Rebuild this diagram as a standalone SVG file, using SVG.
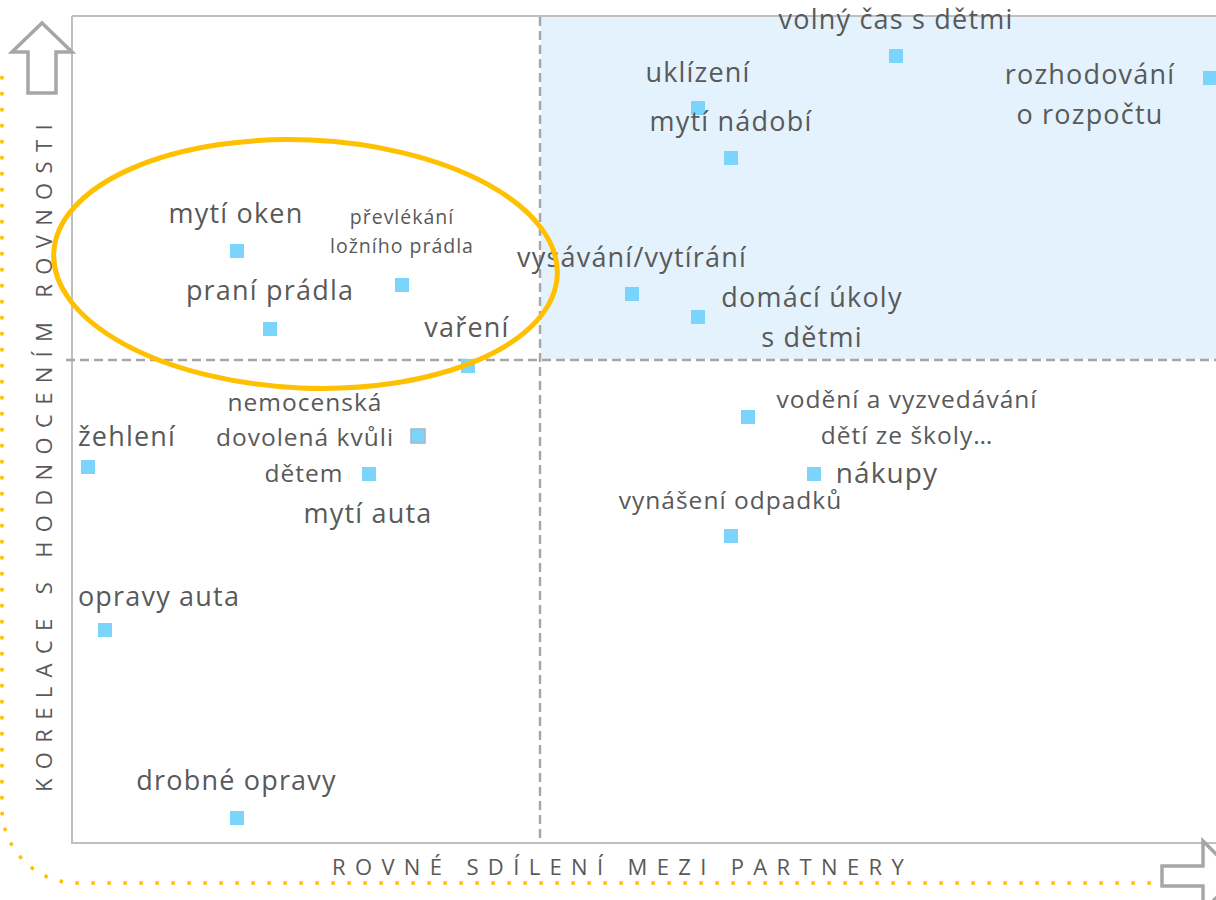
<svg xmlns="http://www.w3.org/2000/svg" width="1216" height="900" viewBox="0 0 1216 900">
<style>
.lbl{font-family:"Open Sans","Noto Sans","DejaVu Sans",sans-serif;fill:#595959;text-anchor:middle;font-size:27px;letter-spacing:1.2px}
.sm{font-size:24.5px;letter-spacing:1px}
.xs{font-size:19.5px;letter-spacing:1px}
.lg{font-size:28px;letter-spacing:1.1px}
.mk{fill:#7AD4FC}
.axis{font-family:"Open Sans","Noto Sans","DejaVu Sans",sans-serif;fill:#595959;font-size:22px;letter-spacing:9.35px}
.frame{stroke:#BFBFBF;stroke-width:2;fill:none}
.dash{stroke:#A6A6A6;stroke-width:2.4;stroke-dasharray:9 5;fill:none}
.arrow{stroke:#A6A6A6;stroke-width:3.5;fill:#fff;stroke-linejoin:miter}
</style>
<rect width="1216" height="900" fill="#fff"/>
<g id="background">
<rect x="541" y="17" width="675" height="342" fill="#E3F2FD"/>
<path class="frame" d="M72,16 H1216 M72,16 V843 H1216"/>
<path class="dash" d="M540,17 V842 M66,360 H1216"/>
</g>
<g id="axes">
<path d="M2,76 V808 A75,75 0 0 0 77,883 H1152" fill="none" stroke="#FFC000" stroke-width="3.5" stroke-dasharray="3.5 12.5"/>
<path class="arrow" d="M42,23 L72,52 L56,52 L56,93 L28,93 L28,52 L12,52 Z"/>
<path class="arrow" d="M1162,866 L1203,866 L1203,841 L1238,876 L1203,911 L1203,886 L1162,886 Z"/>
<text class="axis" transform="translate(52,792) rotate(-90)" x="0" y="0">KORELACE S HODNOCENÍM ROVNOSTI</text>
<text class="axis" x="332" y="875">ROVNÉ SDÍLENÍ MEZI PARTNERY</text>
</g>
<g id="nodes">
<g id="n-volny-cas"><text class="lbl" x="896" y="29">volný čas s dětmi</text><rect class="mk" x="889" y="49" width="14" height="14"/></g>
<g id="n-uklizeni"><text class="lbl" x="698" y="82">uklízení</text><rect class="mk" x="691" y="101" width="14" height="14"/></g>
<g id="n-myti-nadobi"><text class="lbl" x="731" y="131">mytí nádobí</text><rect class="mk" x="724" y="151" width="14" height="14"/></g>
<g id="n-rozhodovani"><text class="lbl" x="1090" y="84">rozhodování</text><text class="lbl" x="1090" y="124">o rozpočtu</text><rect class="mk" x="1203" y="71" width="14" height="14"/></g>
<g id="n-myti-oken"><text class="lbl" x="236" y="223">mytí oken</text><rect class="mk" x="230" y="244" width="14" height="14"/></g>
<g id="n-prevlekani"><text class="lbl xs" x="402" y="224">převlékání</text><text class="lbl xs" x="402" y="253">ložního prádla</text><rect class="mk" x="395" y="278" width="14" height="14"/></g>
<g id="n-prani"><text class="lbl" x="270" y="300">praní prádla</text><rect class="mk" x="263" y="322" width="14" height="14"/></g>
<g id="n-vareni"><text class="lbl" x="467" y="337">vaření</text><rect class="mk" x="461" y="359" width="14" height="14"/></g>
<g id="n-vysavani"><text class="lbl" x="632" y="267">vysávání/vytírání</text><rect class="mk" x="625" y="287" width="14" height="14"/></g>
<g id="n-domaci-ukoly"><text class="lbl" x="812" y="307">domácí úkoly</text><text class="lbl" x="812" y="347">s dětmi</text><rect class="mk" x="691" y="310" width="14" height="14"/></g>
<g id="n-nemocenska"><text class="lbl sm" x="305" y="411">nemocenská</text><text class="lbl sm" x="305" y="446">dovolená kvůli</text><text class="lbl sm" x="304" y="482">dětem</text><rect class="mk" x="411" y="429" width="14" height="14" stroke="#A9B4C2" stroke-width="1.5"/></g>
<g id="n-myti-auta"><text class="lbl" x="368" y="523">mytí auta</text><rect class="mk" x="362" y="467" width="14" height="14"/></g>
<g id="n-zehleni"><text class="lbl" x="127" y="446">žehlení</text><rect class="mk" x="81" y="460" width="14" height="14"/></g>
<g id="n-opravy-auta"><text class="lbl" x="159" y="606">opravy auta</text><rect class="mk" x="98" y="623" width="14" height="14"/></g>
<g id="n-drobne-opravy"><text class="lbl" x="236.5" y="790">drobné opravy</text><rect class="mk" x="230" y="811" width="14" height="14"/></g>
<g id="n-vodeni"><text class="lbl sm" x="907" y="408">vodění a vyzvedávání</text><text class="lbl sm" x="907" y="444">dětí ze školy…</text><rect class="mk" x="741" y="410" width="14" height="14"/></g>
<g id="n-nakupy"><text class="lbl lg" x="887" y="483">nákupy</text><rect class="mk" x="807" y="467" width="14" height="14"/></g>
<g id="n-vynaseni"><text class="lbl sm" x="730.5" y="509">vynášení odpadků</text><rect class="mk" x="724" y="529" width="14" height="14"/></g>
</g>
<g id="highlight">
<ellipse cx="305.5" cy="264" rx="252" ry="124" transform="rotate(2.5 305.5 264)" fill="none" stroke="#FFC000" stroke-width="5"/>
</g>
</svg>
